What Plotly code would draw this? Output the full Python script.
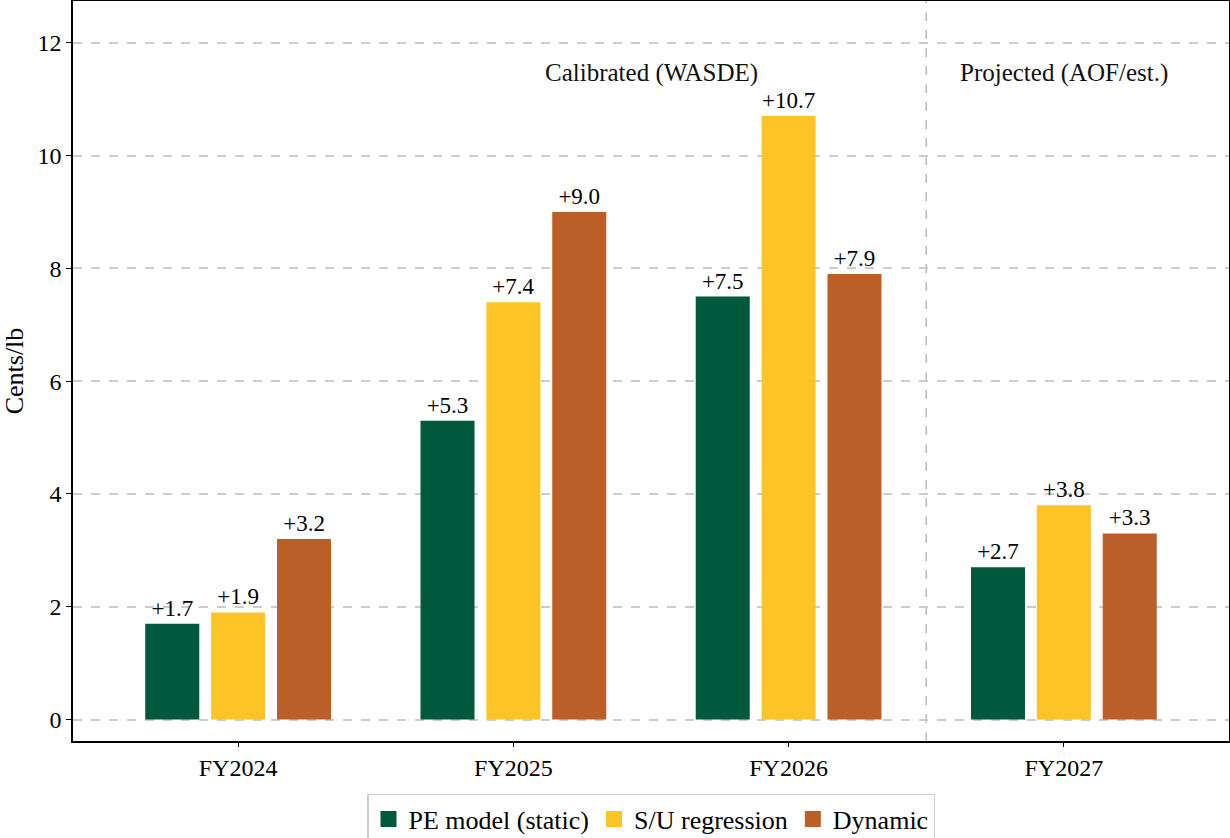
import plotly.graph_objects as go

# Fiscal years on the x axis
years = ["FY2024", "FY2025", "FY2026", "FY2027"]

# Price effect estimates (cents/lb) by method
pe_model = [1.7, 5.3, 7.5, 2.7]
su_regression = [1.9, 7.4, 10.7, 3.8]
dynamic = [3.2, 9.0, 7.9, 3.3]

series_names = ["PE model (static)", "S/U regression", "Dynamic"]
series_colors = ["#01593D", "#FEC426", "#BC5E27"]

y_ticks = [0, 2, 4, 6, 8, 10, 12]

FONT = "Liberation Serif"

fig = go.Figure()
for name, vals, color in zip(series_names, [pe_model, su_regression, dynamic], series_colors):
    fig.add_trace(go.Bar(
        x=years, y=vals, name=name, legendgroup=name, showlegend=False,
        marker=dict(color=color, line=dict(width=0)),
        text=[f"+{v:.1f}" for v in vals],
        textposition="outside",
        textfont=dict(family=FONT, size=23, color="black"),
        cliponaxis=False,
    ))

# Legend entries with large square swatches
for name, color in zip(series_names, series_colors):
    fig.add_trace(go.Scatter(
        x=[None], y=[None], mode="markers", name=name, legendgroup=name,
        marker=dict(symbol="square", size=24, color=color),
    ))

# Divider between calibrated and projected years
fig.add_shape(type="line", xref="x", yref="paper", x0=2.5, x1=2.5, y0=0, y1=1,
              line=dict(color="#BBBBBB", width=1.5, dash="dash"), layer="below")

fig.add_annotation(x=1.5, y=11.47, xref="x", yref="y", text="Calibrated (WASDE)",
                   showarrow=False, font=dict(family=FONT, size=25, color="#111111"))
fig.add_annotation(x=3.0, y=11.47, xref="x", yref="y", text="Projected (AOF/est.)",
                   showarrow=False, font=dict(family=FONT, size=25, color="#111111"))

fig.update_layout(
    width=1230, height=838,
    margin=dict(l=73, r=1, t=1, b=97, autoexpand=False),
    plot_bgcolor="white", paper_bgcolor="white",
    barmode="group", bargap=0.282, bargroupgap=0.18,
    font=dict(family=FONT, size=24, color="black"),
    legend=dict(
        orientation="h", x=0.5, xanchor="center", y=-0.0716, yanchor="top",
        bordercolor="#CCCCCC", borderwidth=1.5, font=dict(family=FONT, size=26),
        traceorder="normal", itemsizing="trace",
    ),
    showlegend=True,
)

fig.update_xaxes(
    type="category", range=[-0.6, 3.6],
    showline=True, mirror=True, linecolor="black", linewidth=1.5,
    ticks="outside", ticklen=4, tickcolor="black",
    showgrid=False, tickfont=dict(family=FONT, size=24),
)
fig.update_yaxes(
    range=[-0.38, 12.74], tickvals=y_ticks,
    showline=True, mirror=True, linecolor="black", linewidth=1.5,
    ticks="outside", ticklen=5, tickcolor="black",
    showgrid=True, gridcolor="#CCCCCC", gridwidth=1.5, griddash="dash",
    zeroline=False, tickfont=dict(family=FONT, size=24),
    title=dict(text="Cents/lb", font=dict(family=FONT, size=26), standoff=12),
)

fig.write_html("out.html")
